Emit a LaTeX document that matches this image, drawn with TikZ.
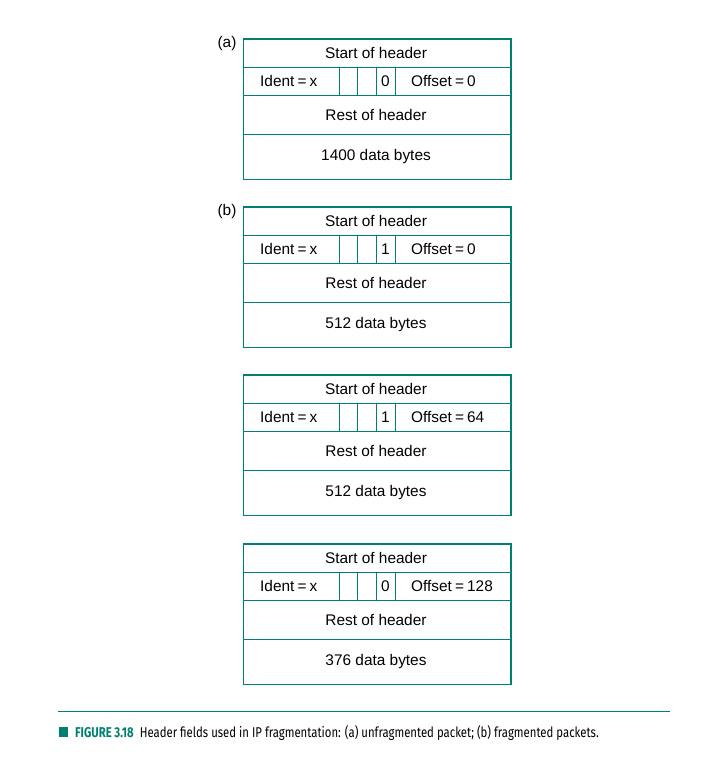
\documentclass[tikz,border=0pt]{standalone}
\usepackage{fontspec}
\setmainfont{Liberation Sans}
\newfontfamily\capfont[FakeStretch=0.8]{Fira Sans}
\usetikzlibrary{positioning}
\definecolor{fgteal}{RGB}{0,128,112}

\begin{document}
\begin{tikzpicture}[x=1pt,y=-1pt,
  field/.style={font=\fontsize{15.4}{18}\selectfont, inner sep=0pt},
  rim/.style={fgteal, line width=0.8pt},
  shade/.style={fgteal, line width=2.4pt}]
\useasboundingbox (0,0) rectangle (728,764);
% Packets: number / top / flag / offset / data bytes
\foreach \i/\t/\f/\o/\d in {1/39/0/0/1400, 2/207/1/0/512, 3/375/1/64/512, 4/544/0/128/376}{
  % frame and rows
  \draw[rim] (243,\t) rectangle (510,\t+140);
  \draw[rim] (243,\t+28) -- (510,\t+28);
  \draw[rim] (243,\t+56) -- (510,\t+56);
  \draw[rim] (243,\t+95) -- (510,\t+95);
  % flag cells
  \draw[rim] (339,\t+28) -- (339,\t+56);
  \draw[rim] (357,\t+28) -- (357,\t+56);
  \draw[rim] (376,\t+28) -- (376,\t+56);
  \draw[rim] (395,\t+28) -- (395,\t+56);
  % heavy top and right edge
  \draw[shade] (243,\t) -- (511,\t) -- (511,\t+140.5);
  % fields
  \node[field] (start\i) at (376,\t+14) {Start of header};
  \node[field, anchor=west] (ident\i) at (260,\t+42) {Ident\hspace{0.2em}=\hspace{0.2em}x};
  \node[field] (flag\i) at (385.5,\t+42) {\f};
  \node[field, anchor=west] (off\i) at (411,\t+42) {Offset\hspace{0.2em}=\hspace{0.2em}\o};
  \node[field] (rest\i) at (376,\t+75.5) {Rest of header};
  \node[field] (data\i) at (376,\t+117.5) {\d\ data bytes};
}
% Part labels
\node[field] (lbla) at (227,44) {(a)};
\node[field] (lblb) at (227,212) {(b)};
% Caption
\draw[fgteal, line width=0.8pt] (58,711) -- (670,711);
\fill[fgteal] (59,727) rectangle (68,737);
\node[anchor=base west, inner sep=0pt, font=\capfont\fontsize{14.2}{16}\selectfont] (caption) at (75,737)
  {{\color{fgteal}\bfseries FIGURE 3.18}\hspace{6pt}Header fields used in IP fragmentation: (a) unfragmented packet; (b) fragmented packets.};
\end{tikzpicture}
\end{document}
